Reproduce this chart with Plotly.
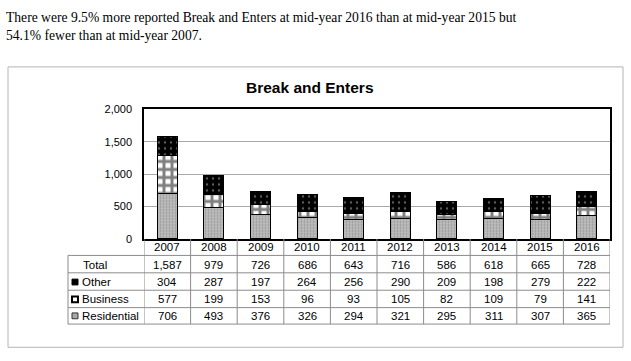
import plotly.graph_objects as go

years = ["2007", "2008", "2009", "2010", "2011", "2012", "2013", "2014", "2015", "2016"]
residential = [706, 493, 376, 326, 294, 321, 295, 311, 307, 365]
business = [577, 199, 153, 96, 93, 105, 82, 109, 79, 141]
other = [304, 287, 197, 264, 256, 290, 209, 198, 279, 222]
total = [1587, 979, 726, 686, 643, 716, 586, 618, 665, 728]
y_ticks = [0, 500, 1000, 1500, 2000]

W, H = 631, 361
def px(x):
    return x / W
def py(y):
    return 1 - y / H

x_idx = list(range(len(years)))
line = dict(color="black", width=1)

fig = go.Figure()
fig.add_bar(x=x_idx, y=residential, name="Residential", width=0.43,
            marker=dict(color="#c0c0c0", line=line,
                        pattern=dict(shape=".", fgcolor="#707070", bgcolor="#bdbdbd", size=3, solidity=0.3)))
fig.add_bar(x=x_idx, y=business, name="Business", width=0.43,
            marker=dict(color="white", line=line,
                        pattern=dict(shape="+", fgcolor="black", bgcolor="white", size=8, solidity=0.6)))
fig.add_bar(x=x_idx, y=other, name="Other", width=0.43,
            marker=dict(color="black", line=line,
                        pattern=dict(shape=".", fgcolor="#bbbbbb", bgcolor="black", size=6, solidity=0.12)))

font = "Arial, Liberation Sans, sans-serif"
shapes = []
ann = []

def text(x, y, s, xref="paper", xanchor="center", size=11, fam=font):
    ann.append(dict(x=x, y=y, xref=xref, yref="paper", text=s, showarrow=False,
                    xanchor=xanchor, yanchor="middle", font=dict(family=fam, size=size, color="black")))

# outer chart box
shapes.append(dict(type="rect", xref="paper", yref="paper", x0=px(8), x1=px(623), y0=py(353), y1=py(63),
                   line=dict(color="#b4b4b4", width=1), layer="below"))

# table grid
grid = dict(color="#8c8c8c", width=1)
row_lines = [258, 276, 294, 312, 329]
for y in row_lines:
    shapes.append(dict(type="line", xref="paper", yref="paper", x0=px(68), x1=px(610), y0=py(y), y1=py(y), line=grid))
shapes.append(dict(type="line", xref="paper", yref="paper", x0=px(68), x1=px(68), y0=py(258), y1=py(329), line=grid))
for i in range(len(years) + 1):
    shapes.append(dict(type="line", xref="x", yref="paper", x0=i - 0.5, x1=i - 0.5, y0=py(241), y1=py(329), line=grid))

row_centers = {"hdr": 249.5, "Total": 267.5, "Other": 285.5, "Business": 303.5, "Residential": 320.5}
rows = [("Total", total), ("Other", other), ("Business", business), ("Residential", residential)]

for i, yr in enumerate(years):
    text(i, py(row_centers["hdr"]), yr, xref="x", size=11.5)
    for name, vals in rows:
        text(i, py(row_centers[name]), f"{vals[i]:,}", xref="x", size=11.5)

text(px(81), py(row_centers["Total"]), "Total", xanchor="left", size=11.5)
for name in ["Other", "Business", "Residential"]:
    text(px(79.5), py(row_centers[name]), name, xanchor="left", size=11.5)

# legend keys
yc = row_centers["Other"]
shapes.append(dict(type="rect", xref="paper", yref="paper", x0=px(72), x1=px(78), y0=py(yc + 3), y1=py(yc - 3),
                   fillcolor="black", line=dict(color="black", width=1)))
yc = row_centers["Business"]
shapes.append(dict(type="rect", xref="paper", yref="paper", x0=px(72), x1=px(78), y0=py(yc + 3), y1=py(yc - 3),
                   fillcolor="white", line=dict(color="black", width=2)))
yc = row_centers["Residential"]
shapes.append(dict(type="rect", xref="paper", yref="paper", x0=px(72), x1=px(78), y0=py(yc + 3), y1=py(yc - 3),
                   fillcolor="#a8a8a8", line=dict(color="#333333", width=1)))

# header paragraph
serif = "Liberation Serif, Times New Roman, serif"
text(px(4), py(12), "There were 9.5% more reported Break and Enters at mid-year 2016 than at mid-year 2015 but",
     xanchor="left", size=13.6, fam=serif)
text(px(4), py(30), "54.1% fewer than at mid-year 2007.", xanchor="left", size=13.6, fam=serif)

# title
text(px(310), py(84), "<b>Break and Enters</b>", size=15.5)

fig.update_layout(
    width=W, height=H, margin=dict(l=0, r=0, t=0, b=0),
    paper_bgcolor="white", plot_bgcolor="white",
    barmode="stack", bargap=0.57, showlegend=False,
    shapes=shapes, annotations=ann,
    xaxis=dict(domain=[px(144), px(610)], range=[-0.5, len(years) - 0.5], showticklabels=False,
               showgrid=False, zeroline=False, showline=True, linecolor="black", linewidth=1.5, mirror=True,
               ticks=""),
    yaxis=dict(domain=[py(241), py(107)], range=[0, 2000], tickvals=y_ticks,
               ticktext=[f"{v:,}" for v in y_ticks], showgrid=True, gridcolor="#a8a8a8", gridwidth=1,
               zeroline=False, showline=True, linecolor="black", linewidth=1.5, mirror=True,
               ticks="", ticklabelstandoff=8, tickfont=dict(family=font, size=11, color="black")),
)

fig.write_html("out.html")
